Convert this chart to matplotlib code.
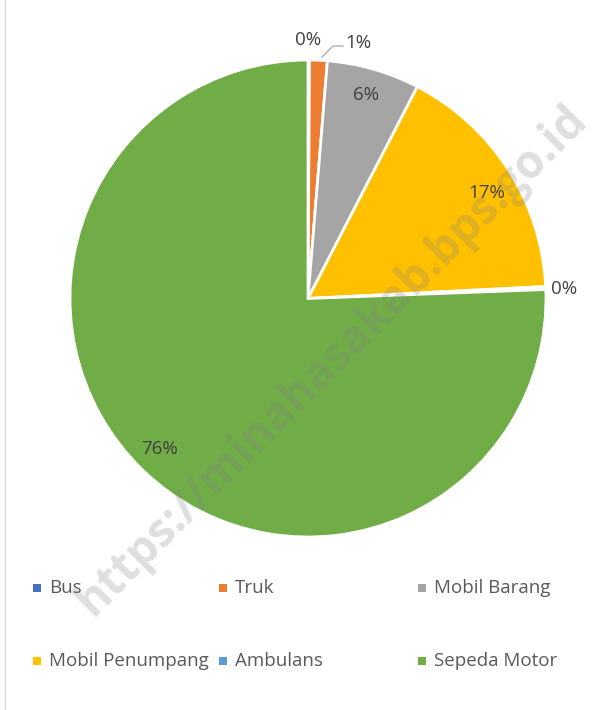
import matplotlib.pyplot as plt
import numpy as np

plt.rcParams['font.family'] = ['Open Sans', 'DejaVu Sans']

categories = ['Bus', 'Truk', 'Mobil Barang', 'Mobil Penumpang', 'Ambulans', 'Sepeda Motor']
values = [0.1, 1.2, 6.3, 16.6, 0.2, 75.6]
colors = ['#4472C4', '#ED7D31', '#A5A5A5', '#FFC000', '#5B9BD5', '#70AD47']
pct_labels = ['0%', '1%', '6%', '17%', '0%', '76%']
# label positions in pixels (x, y from top)
label_pos = [(308, 40), (358, 43), (366, 95), (487, 193), (564, 289), (160, 449)]

W, H = 602, 710
fig = plt.figure(figsize=(W / 100, H / 100), dpi=100)
fig.patch.set_facecolor('white')

# pie axes
ax = fig.add_axes([70 / W, (H - 537) / H, 476 / W, 477 / H])
wedges, _ = ax.pie(values, colors=colors, startangle=90, counterclock=False,
                   radius=1, wedgeprops=dict(edgecolor='white', linewidth=2))
ax.set_xlim(-1, 1)
ax.set_ylim(-1, 1)
ax.set_aspect('auto')
ax.axis('off')

for (x, y), t in zip(label_pos, pct_labels):
    fig.text(x / W, 1 - y / H, t, ha='center', va='center', fontsize=13.5, color='#404040')

# leader line for Truk
fig.add_artist(plt.Line2D([322 / W, 333 / W, 343 / W], [1 - 57 / H, 1 - 46 / H, 1 - 46 / H],
                          color='#A6A6A6', lw=0.9))

# left border
fig.add_artist(plt.Line2D([5 / W, 5 / W], [0, 1], color='#D9D9D9', lw=1))

# legend
leg_x = [37, 223, 422]
leg_y = [588, 661]
for i, (name, c) in enumerate(zip(categories, colors)):
    x = leg_x[i % 3]
    y = leg_y[i // 3]
    fig.patches.append(plt.Rectangle(((x - 4) / W, 1 - (y + 4) / H), 8 / W, 8 / H,
                                     transform=fig.transFigure, facecolor=c, edgecolor='none'))
    fig.text((x + 12) / W, 1 - y / H, name, ha='left', va='center', fontsize=13.5, color='#595959')

# watermark
fig.text(332 / W, 1 - 360 / H, 'https://minahasakab.bps.go.id', rotation=45,
         ha='center', va='center', fontsize=33, fontweight='bold', color='#808080', alpha=0.25)

fig.savefig('out.png', dpi=100)
